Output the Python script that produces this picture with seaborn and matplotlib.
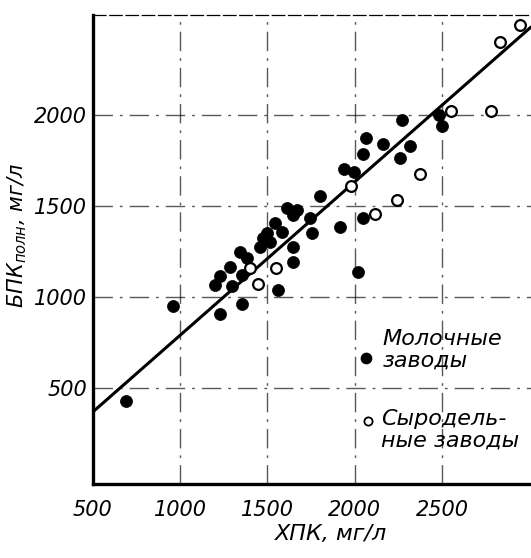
import pandas as pd
import numpy as np
import matplotlib
matplotlib.use("Agg")
import matplotlib.pyplot as plt
import seaborn as sns

# points
dairy_x = [689, 958, 1227, 1353, 1199, 1227, 1285, 1342, 1382, 1296, 1353, 1560,
           1456, 1474, 1542, 1514, 1582, 1611, 1645, 1668, 1645, 1645, 1754, 1743,
           1800, 1915, 2046, 2018, 1938, 1995, 2046, 2064, 2161, 2270, 2258, 2316,
           2485, 2500, 1497]
dairy_y = [433, 953, 909, 964, 1068, 1117, 1166, 1249, 1216, 1062, 1123, 1040,
           1276, 1325, 1407, 1303, 1358, 1490, 1451, 1479, 1276, 1194, 1353, 1435,
           1555, 1386, 1435, 1139, 1703, 1687, 1785, 1873, 1840, 1972, 1763, 1829,
           2000, 1940, 1353]
cheese_x = [1445, 1399, 1548, 1978, 2115, 2241, 2373, 2550, 2779, 2831, 2946]
cheese_y = [1073, 1161, 1161, 1610, 1457, 1533, 1676, 2021, 2021, 2399, 2492]

# regression line
fit_x = [500, 3010]
fit_y = [372, 2480]

# legend made of text + markers inside the plot
legend_labels = ["Молочные\nзаводы", "Сыродель-\nные заводы"]
legend_mark_x = [2064, 2075]
legend_mark_y = [668, 323]
legend_text_x = [2160, 2150]
legend_text_y = [712, 274]

x_ticks = [500, 1000, 1500, 2000, 2500]
y_ticks = [500, 1000, 1500, 2000]

sns.set_style("white")
plt.rcParams['font.family'] = ['DejaVu Sans']
plt.rcParams['font.style'] = 'italic'
plt.rcParams['mathtext.default'] = 'it'
for key in ['text.color', 'axes.labelcolor', 'xtick.color', 'ytick.color']:
    plt.rcParams[key] = 'black'

fig = plt.figure(figsize=(5.31, 5.58), dpi=100)
ax = fig.add_axes([0.175, 0.133, 0.825, 0.8405])

dash = (0, (14, 5, 2, 5))
for xv in x_ticks[1:]:
    ax.axvline(xv, color='black', lw=1.0, ls=dash, alpha=0.65, zorder=1)
for yv in y_ticks:
    ax.axhline(yv, color='black', lw=1.0, ls=dash, alpha=0.65, zorder=1)

sns.lineplot(x=fit_x, y=fit_y, color='black', lw=2.2, ax=ax, zorder=3)

dairy = pd.DataFrame({'x': dairy_x, 'y': dairy_y})
cheese = pd.DataFrame({'x': cheese_x, 'y': cheese_y})
sns.scatterplot(data=dairy, x='x', y='y', s=75, color='black', edgecolor='black',
                linewidth=0.5, ax=ax, zorder=4)
sns.scatterplot(data=cheese, x='x', y='y', s=60, facecolor='white', edgecolor='black',
                linewidth=1.6, ax=ax, zorder=4)

# legend-like annotations
ax.scatter(legend_mark_x[0], legend_mark_y[0], s=55, color='black', zorder=4)
ax.scatter(legend_mark_x[1], legend_mark_y[1], s=35, facecolor='white',
           edgecolor='black', linewidth=1.3, zorder=4)
for lab, tx, ty in zip(legend_labels, legend_text_x, legend_text_y):
    ax.text(tx, ty, lab, fontsize=16, style='italic', ha='left', va='center',
            linespacing=1.05, zorder=5)

ax.set_xlim(500, 3010)
ax.set_ylim(-22, 2547)
ax.set_xticks(x_ticks)
ax.set_yticks(y_ticks)
ax.tick_params(length=0, labelsize=15)
ax.tick_params(axis='x', pad=12)
ax.tick_params(axis='y', pad=4)

ax.set_xlabel("ХПК, мг/л", fontsize=16, style='italic')
ax.set_ylabel("БПК$_{полн}$, мг/л", fontsize=15, style='italic')
ax.xaxis.set_label_coords(0.543, -0.085)
ax.yaxis.set_label_coords(-0.145, 0.53)

for side in ['left', 'bottom']:
    ax.spines[side].set_linewidth(2.4)
    ax.spines[side].set_color('black')
ax.spines['right'].set_visible(False)
ax.spines['top'].set_linewidth(0.9)
ax.spines['top'].set_linestyle((0, (10, 3)))
ax.spines['top'].set_color('black')

fig.savefig("out.png", dpi=100)
